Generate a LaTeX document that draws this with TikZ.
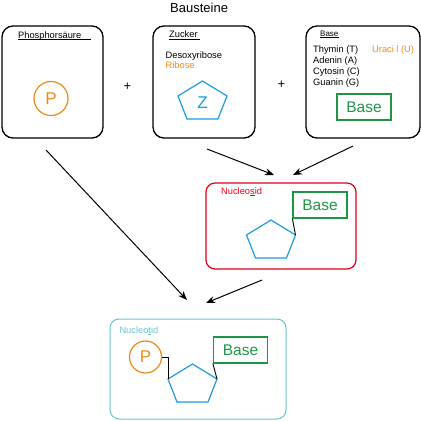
\documentclass[tikz,border=0pt]{standalone}
\usepackage{fontspec}
\setmainfont{Liberation Sans}
\usetikzlibrary{arrows.meta,shapes.geometric}
\definecolor{porange}{RGB}{236,138,26}
\definecolor{zblue}{RGB}{29,156,219}
\definecolor{bgreen}{RGB}{30,150,70}
\definecolor{nsred}{RGB}{226,0,26}
\definecolor{ntcyan}{RGB}{108,196,206}
\tikzset{
	kasten/.style={draw=black, line width=1.3pt, rounded corners=11pt, inner sep=0pt},
	ring/.style={draw=zblue, line width=1.2pt, line join=miter},
	basis/.style={draw=bgreen, line width=1.2pt, text=bgreen, minimum width=54pt, minimum height=26pt, inner sep=0pt, font=\fontsize{15.5}{16}\selectfont},
	phos/.style={draw=porange, line width=1.2pt, text=porange, circle, minimum size=34pt, inner sep=0pt, font=\fontsize{17}{18}\selectfont},
	klein/.style={inner sep=0pt, anchor=base west, font=\fontsize{9.3}{10}\selectfont},
	pfeil/.style={line width=1pt, -{Stealth[length=9pt,width=7pt]}},
	bund/.style={line width=0.9pt},
}
\def\fuenfeck(#1)#2{%
	\coordinate (#2) at (#1);
	\coordinate (#2-t) at ([shift={(0,-19)}]#2);
	\coordinate (#2-l) at ([shift={(-24.5,-4)}]#2);
	\coordinate (#2-r) at ([shift={(24.5,-4)}]#2);
	\coordinate (#2-bl) at ([shift={(-15.5,19)}]#2);
	\coordinate (#2-br) at ([shift={(15.5,19)}]#2);
	\draw[ring] (#2-t) -- (#2-r) -- (#2-br) -- (#2-bl) -- (#2-l) -- cycle;}

\begin{document}
\begin{tikzpicture}[x=1pt,y=-1pt]
	%%%%% START %%%%%
	\useasboundingbox (0,0) rectangle (421,421);
	
	\node[anchor=base west, inner sep=0pt, font=\fontsize{13}{14}\selectfont] (titel) at (170,12.7) {Bausteine};
	
	% Phosphorsaeure
	\node[kasten, minimum width=101pt, minimum height=112pt] (phosbox) at (52.5,82) {};
	\node[klein] (phoslbl) at (18,38) {Phosphorsäure};
	\draw[line width=0.6pt] ([yshift=-1.5pt]phoslbl.base west) -- ++(73,0);
	\node[phos] (p1) at (51,98.5) {P};
	
	\node[font=\fontsize{13}{14}\selectfont] (plus1) at (127.5,87) {+};
	
	% Zucker
	\node[kasten, minimum width=102pt, minimum height=112pt] (zuckerbox) at (204,82) {};
	\node[klein] (zuckerlbl) at (169,37.7) {Zucker};
	\draw[line width=0.6pt] ([yshift=-1.5pt]zuckerlbl.base west) -- ++(31,0);
	\node[klein] (desoxy) at (165.5,58.3) {Desoxyribose};
	\node[klein, text=porange] (ribose) at (165.5,68.3) {Ribose};
	\fuenfeck(202.5,100){z1}
	\node[text=zblue, font=\fontsize{17}{18}\selectfont] (zlbl) at (202.5,103) {Z};
	
	\node[font=\fontsize{13}{14}\selectfont] (plus2) at (281.5,85) {+};
	
	% Base
	\node[kasten, minimum width=114pt, minimum height=112pt] (basebox) at (363,82) {};
	\node[klein, font=\fontsize{8}{9}\selectfont] (baselbl) at (320,36) {Base};
	\draw[line width=0.6pt] ([yshift=-1.2pt]baselbl.base west) -- ++(19,0);
	\node[klein] (thymin) at (313,52.3) {Thymin (T)};
	\node[klein] (adenin) at (313,63) {Adenin (A)};
	\node[klein] (cytosin) at (313,74) {Cytosin (C)};
	\node[klein] (guanin) at (313,85) {Guanin (G)};
	\node[klein, text=porange] (uracil) at (372,52.3) {Uraci l (U)};
	\node[basis] (base1) at (364,107) {Base};
	
	% Nucleosid
	\node[kasten, draw=nsred, line width=1.2pt, rounded corners=9pt, minimum width=150pt, minimum height=86pt] (nsbox) at (281,226) {};
	\node[klein, text=nsred] (nslbl) at (221,194) {Nucleo\underline{s}id};
	\node[basis] (base2) at (320,205) {Base};
	\fuenfeck(271,239){z2}
	\draw[bund] (z2-r) -- (base2.south west);
	
	% Nucleotid
	\node[kasten, draw=ntcyan, line width=1pt, rounded corners=9pt, minimum width=176pt, minimum height=100pt] (ntbox) at (198,369) {};
	\node[klein, text=ntcyan] (ntlbl) at (119.3,333) {Nucleo\underline{t}id};
	\node[phos, minimum size=32pt] (p2) at (145.5,357) {P};
	\node[basis] (base3) at (240.5,350) {Base};
	\fuenfeck(192.5,383){z3}
	\draw[bund] (z3-r) -- (base3.south west);
	\draw[bund] (z3-l) |- (p2.east);
	
	% Pfeile
	\coordinate (a1s) at (46,150);
	\coordinate (a1e) at (187,300);
	\coordinate (a2s) at (207,149);
	\coordinate (a2e) at (274,175);
	\coordinate (a3s) at (353,146);
	\coordinate (a3e) at (293,175);
	\coordinate (a4s) at (262,280);
	\coordinate (a4e) at (206,303);
	\draw[pfeil] (a1s) -- (a1e);
	\draw[pfeil] (a2s) -- (a2e);
	\draw[pfeil] (a3s) -- (a3e);
	\draw[pfeil] (a4s) -- (a4e);
	
	%%%%% END %%%%%
\end{tikzpicture}
\end{document}
